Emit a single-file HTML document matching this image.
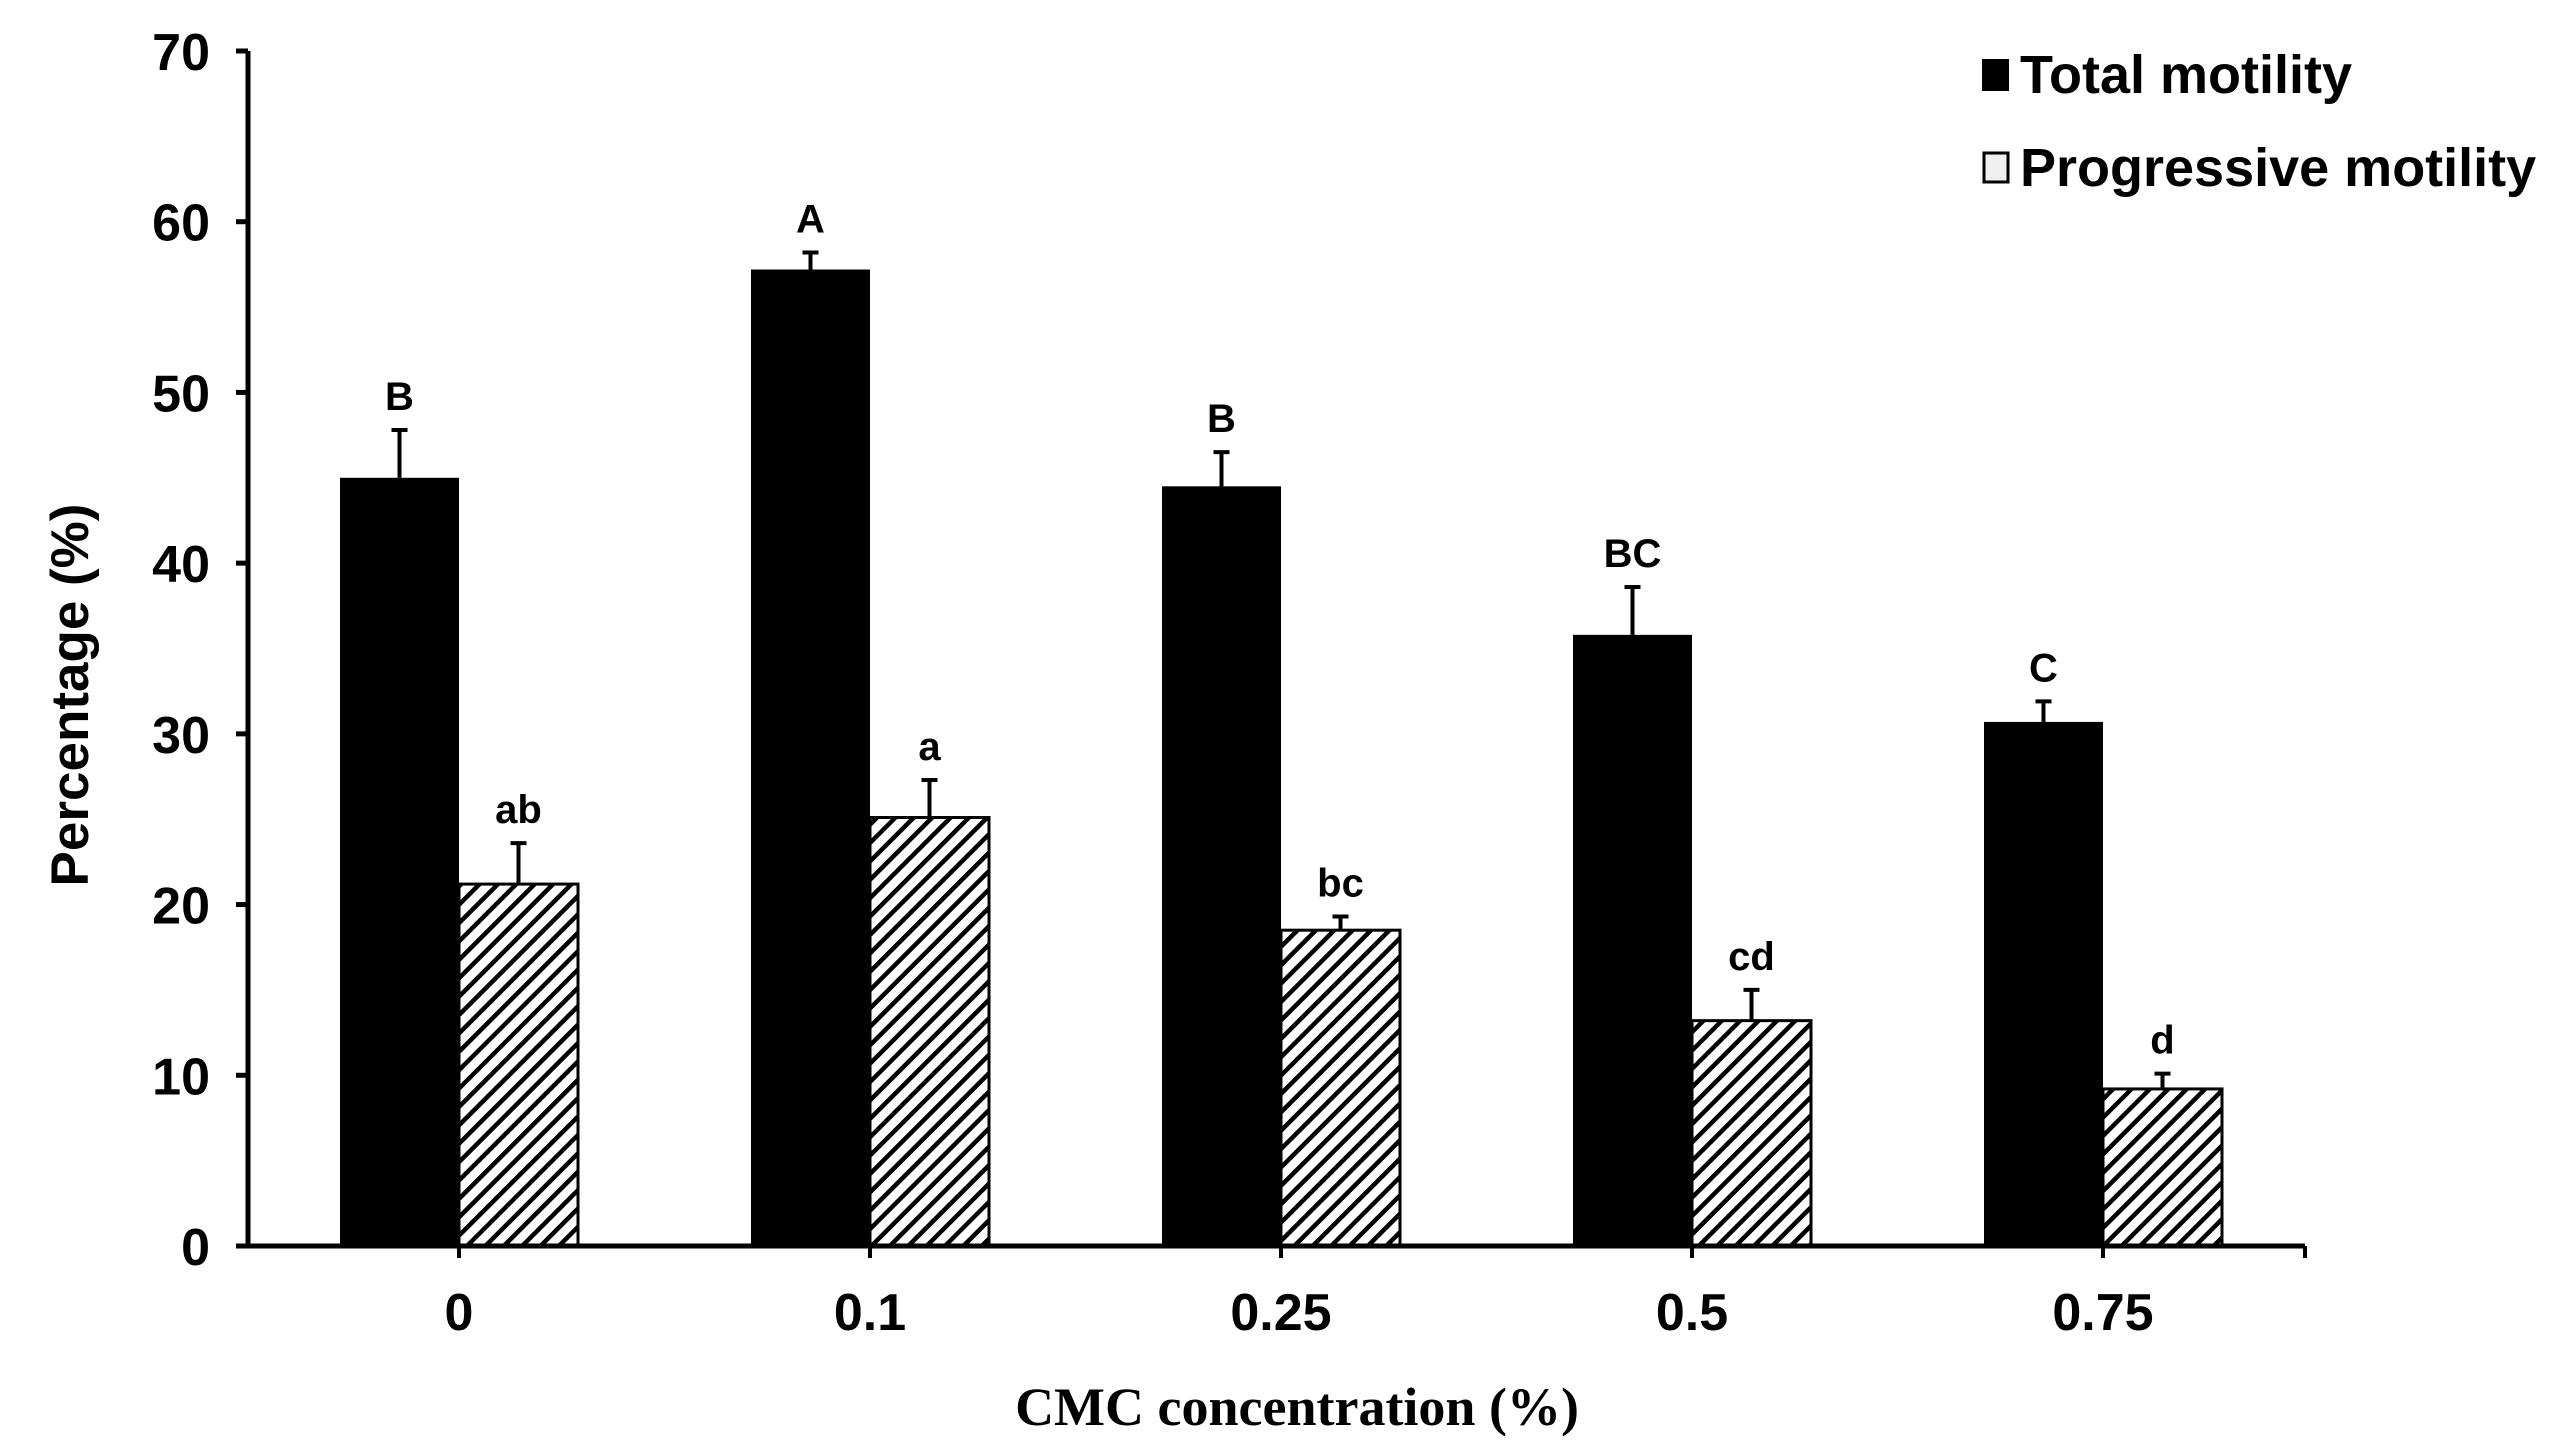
<!DOCTYPE html>
<html><head><meta charset="utf-8"><style>
html,body{margin:0;padding:0;background:#fff;}
svg{display:block;}
text{font-family:"Liberation Sans",Arial,sans-serif;font-weight:bold;fill:#000;}
</style></head><body>
<svg id="chart" width="2550" height="1455" viewBox="0 0 2550 1455" xmlns="http://www.w3.org/2000/svg">
<defs>
<pattern id="hatch" patternUnits="userSpaceOnUse" width="13" height="13" patternTransform="rotate(45)">
<rect width="13" height="13" fill="#fff"/>
<rect x="0" y="0" width="4.5" height="13" fill="#000"/>
</pattern>
</defs>
<g id="plot"></g>
</svg>
<script>
const categories = ["0","0.1","0.25","0.5","0.75"];
const totalValues = [45.0, 57.2, 44.5, 35.8, 30.7];
const totalErrors = [2.8, 1.0, 2.0, 2.8, 1.2];
const totalLetters = ["B","A","B","BC","C"];
const progValues = [21.2, 25.1, 18.5, 13.2, 9.2];
const progErrors = [2.4, 2.2, 0.8, 1.8, 0.9];
const progLetters = ["ab","a","bc","cd","d"];
const yTicks = [0,10,20,30,40,50,60,70];

const NS = "http://www.w3.org/2000/svg";
const g = document.getElementById('plot');
const X0 = 248, X1 = 2305, Y0 = 1246, Y70 = 51;
const yScale = v => Y0 - (v / 70) * (Y0 - Y70);
const catCenter = i => 459 + i * 411;
const BW = 119;

function mk(tag, attrs, text) {
  const e = document.createElementNS(NS, tag);
  for (const k in attrs) e.setAttribute(k, attrs[k]);
  if (text !== undefined) e.textContent = text;
  g.appendChild(e);
  return e;
}

categories.forEach((c, i) => {
  const cx = catCenter(i);
  const yt = yScale(totalValues[i]);
  const b1 = mk('rect', {x: cx - BW, y: yt, width: BW, height: Y0 - yt, fill: '#000'});
  
  
  const ye1 = yScale(totalValues[i] + totalErrors[i]);
  const e1 = mk('path', {d: `M${cx - BW/2} ${yt} V${ye1} M${cx - BW/2 - 8} ${ye1} H${cx - BW/2 + 8}`, stroke: '#000', 'stroke-width': 4, fill: 'none'});
  
  
  const l1 = mk('text', {x: cx - BW/2, y: ye1 - 20, 'text-anchor': 'middle', 'font-size': 40}, totalLetters[i]);
  
  
  const yp = yScale(progValues[i]);
  const b2 = mk('rect', {x: cx, y: yp, width: BW, height: Y0 - yp, fill: 'url(#hatch)', stroke: '#000', 'stroke-width': 3});
  
  
  const ye2 = yScale(progValues[i] + progErrors[i]);
  const e2 = mk('path', {d: `M${cx + BW/2} ${yp} V${ye2} M${cx + BW/2 - 8} ${ye2} H${cx + BW/2 + 8}`, stroke: '#000', 'stroke-width': 4, fill: 'none'});
  
  
  const l2 = mk('text', {x: cx + BW/2, y: ye2 - 20, 'text-anchor': 'middle', 'font-size': 40}, progLetters[i]);
  
  
  const t = mk('line', {x1: cx, x2: cx, y1: Y0, y2: Y0 + 12, stroke: '#000', 'stroke-width': 4});
  
  
  const xl = mk('text', {x: cx, y: 1330, 'text-anchor': 'middle', 'font-size': 52}, c);
  
  
});

const ya = mk('line', {x1: X0, x2: X0, y1: Y70, y2: Y0, stroke: '#000', 'stroke-width': 5});


const xa = mk('line', {x1: X0 - 12, x2: X1, y1: Y0, y2: Y0, stroke: '#000', 'stroke-width': 5});


const xe = mk('line', {x1: X1, x2: X1, y1: Y0, y2: Y0 + 12, stroke: '#000', 'stroke-width': 4});



yTicks.forEach(v => {
  const y = yScale(v);
  const t = mk('line', {x1: X0 - 12, x2: X0, y1: y, y2: y, stroke: '#000', 'stroke-width': 5});
  
  
  const l = mk('text', {x: X0 - 38, y: y + 19, 'text-anchor': 'end', 'font-size': 52}, String(v));
  
  
});

const yt = mk('text', {x: 0, y: 0, 'text-anchor': 'middle', 'font-size': 53, transform: 'translate(88,695) rotate(-90)'}, 'Percentage (%)');


const xt = mk('text', {x: 1297, y: 1425, 'text-anchor': 'middle', 'font-size': 54, style: 'font-family:"Liberation Serif",serif;font-weight:bold'}, 'CMC concentration (%)');



const s1 = mk('rect', {x: 1983, y: 60, width: 25, height: 30, fill: '#000', stroke: '#000', 'stroke-width': 2});


const t1 = mk('text', {x: 2020, y: 93, 'font-size': 54}, 'Total motility');


const s2 = mk('rect', {x: 1984, y: 153, width: 24, height: 29, fill: '#f0f0f0', stroke: '#000', 'stroke-width': 3});


const t2 = mk('text', {x: 2020, y: 186, 'font-size': 54}, 'Progressive motility');


</script>
</body></html>
